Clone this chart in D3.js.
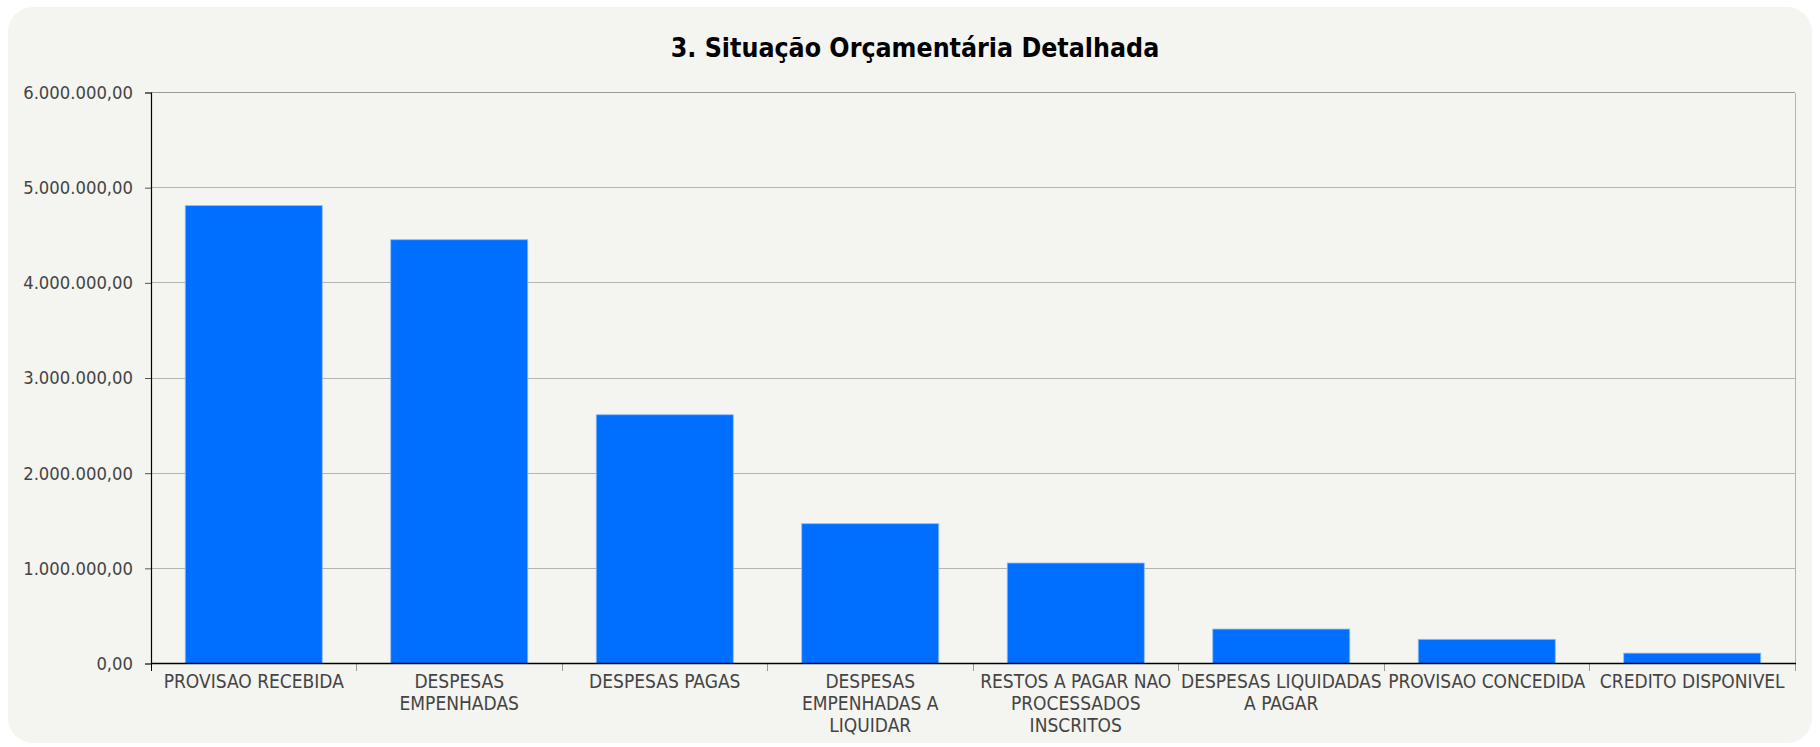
<!DOCTYPE html>
<html>
<head>
<meta charset="utf-8">
<script src="https://cdn.jsdelivr.net/npm/d3@7"></script>
<style>
  html, body { margin: 0; padding: 0; background: #ffffff; }
  svg { display: block; }
</style>
</head>
<body>
<svg id="chart" width="1820" height="747"></svg>
<script>
const title = "3. Situação Orçamentária Detalhada";
const categories = [
  "PROVISAO RECEBIDA",
  "DESPESAS EMPENHADAS",
  "DESPESAS PAGAS",
  "DESPESAS EMPENHADAS A LIQUIDAR",
  "RESTOS A PAGAR NAO PROCESSADOS INSCRITOS",
  "DESPESAS LIQUIDADAS A PAGAR",
  "PROVISAO CONCEDIDA",
  "CREDITO DISPONIVEL"
];
const tickLabels = [
  ["PROVISAO RECEBIDA"],
  ["DESPESAS", "EMPENHADAS"],
  ["DESPESAS PAGAS"],
  ["DESPESAS", "EMPENHADAS A", "LIQUIDAR"],
  ["RESTOS A PAGAR NAO", "PROCESSADOS", "INSCRITOS"],
  ["DESPESAS LIQUIDADAS", "A PAGAR"],
  ["PROVISAO CONCEDIDA"],
  ["CREDITO DISPONIVEL"]
];
const values = [4812000, 4453000, 2614000, 1469000, 1056000, 362000, 254000, 109000];
const yTicks = [0, 1000000, 2000000, 3000000, 4000000, 5000000, 6000000];

const svg = d3.select("#chart");
const W = 1820, H = 747;
const margin = { left: 151, right: 25, top: 92.5, bottom: 83.5 };
const x0 = margin.left, x1 = W - margin.right, y0 = H - margin.bottom, y1 = margin.top;

const fmt = d3.formatLocale({ decimal: ",", thousands: ".", grouping: [3], currency: ["R$", ""] }).format(",.2f");

// panel
svg.append("rect").attr("x", 8).attr("y", 7).attr("width", 1804).attr("height", 736)
  .attr("rx", 25).attr("ry", 25).attr("fill", "#f4f4f0");

// title
svg.append("text").attr("x", 915).attr("y", 57).attr("text-anchor", "middle")
  .attr("font-family", "'DejaVu Sans Condensed', 'DejaVu Sans', sans-serif")
  .attr("font-weight", "bold").attr("font-size", 26.5).attr("fill", "#000")
  .text(title);

const x = d3.scaleBand().domain(categories).range([x0, x1]).paddingInner(1/3).paddingOuter(1/6);
const y = d3.scaleLinear().domain([0, 6000000]).range([y0, y1]);

// gridlines
svg.append("g").selectAll("line").data(yTicks.filter(d => d > 0)).join("line")
  .attr("x1", x0).attr("x2", x1)
  .attr("y1", d => y(d)).attr("y2", d => y(d))
  .attr("stroke", d => d === 6000000 ? "#9a9a96" : "#b4b4b0").attr("stroke-width", 1)
  .attr("shape-rendering", "crispEdges");

// right border
svg.append("line").attr("x1", x1).attr("x2", x1).attr("y1", y1).attr("y2", y0)
  .attr("stroke", "#b4b4b0").attr("shape-rendering", "crispEdges");

// bars
svg.append("g").selectAll("rect").data(values).join("rect")
  .attr("x", (d, i) => x(categories[i]))
  .attr("width", x.bandwidth())
  .attr("y", d => y(d))
  .attr("height", d => y0 - y(d))
  .attr("fill", "#006eff")
  .attr("stroke", "#8fbcf5").attr("stroke-width", 0.8);

// y axis
const yAxis = d3.axisLeft(y).tickValues(yTicks).tickSize(6).tickPadding(12).tickFormat(d => fmt(d));
const gy = svg.append("g").attr("transform", `translate(${x0},0)`).call(yAxis);
gy.select(".domain").attr("stroke", "#000").attr("stroke-width", 1.2);
gy.selectAll(".tick line").attr("stroke", "#555");
gy.selectAll(".tick text").attr("font-family", "'DejaVu Sans Condensed', 'DejaVu Sans', sans-serif")
  .attr("font-size", 18.3).attr("fill", "#444");

// x axis (band boundary ticks)
const boundaries = d3.range(categories.length + 1).map(i => x0 + i * x.step());
svg.append("g").selectAll("line").data(boundaries).join("line")
  .attr("x1", d => d).attr("x2", d => d).attr("y1", y0).attr("y2", y0 + 7)
  .attr("stroke", (d, i) => i === 0 ? "#000" : "#999").attr("stroke-width", 1)
  .attr("shape-rendering", "crispEdges");
svg.append("line").attr("x1", x0).attr("x2", x1 + 1).attr("y1", y0).attr("y2", y0)
  .attr("stroke", "#000").attr("stroke-width", 1.6);

const gx = svg.append("g");
gx.selectAll("text").data(categories).join("text")
  .attr("x", d => x(d) + x.bandwidth() / 2)
  .attr("y", y0 + 24)
  .attr("text-anchor", "middle")
  .attr("font-family", "'DejaVu Sans Condensed', 'DejaVu Sans', sans-serif")
  .attr("font-size", 19).attr("fill", "#444")
  .each(function(d, i) {
    const t = d3.select(this);
    tickLabels[i].forEach((line, j) => {
      t.append("tspan").attr("x", x(d) + x.bandwidth() / 2).attr("dy", j === 0 ? 0 : 22).text(line);
    });
  });
</script>
</body>
</html>
